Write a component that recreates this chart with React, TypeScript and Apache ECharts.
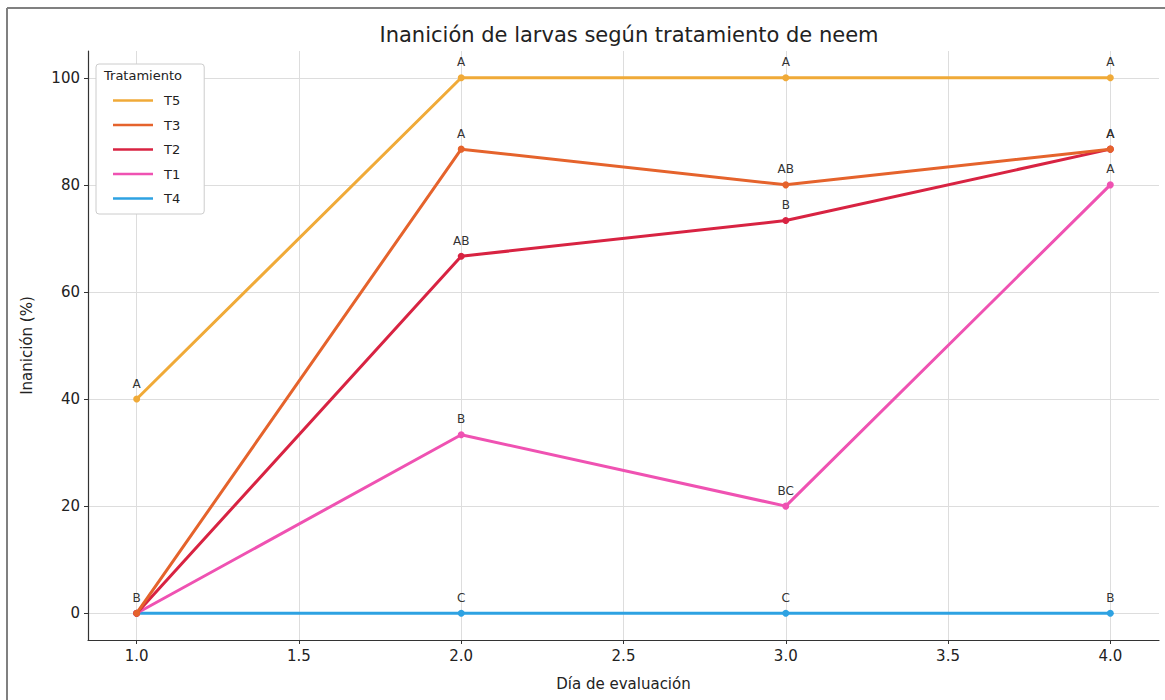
import React, { useEffect, useRef } from "react";
import * as echarts from "echarts";

const days = [1, 2, 3, 4];
const xTicks = [1.0, 1.5, 2.0, 2.5, 3.0, 3.5, 4.0];
const yTicks = [0, 20, 40, 60, 80, 100];

const names = ["T5", "T3", "T2", "T1", "T4"];
const colors = ["#f0aa38", "#e5632c", "#d82342", "#ef52b2", "#2ea2e2"];
const t5 = [40, 100, 100, 100];
const t3 = [0, 86.67, 80, 86.67];
const t2 = [0, 66.67, 73.33, 86.67];
const t1 = [0, 33.33, 20, 80];
const t4 = [0, 0, 0, 0];
const t5Letters = ["A", "A", "A", "A"];
const t3Letters = ["", "A", "AB", "A"];
const t2Letters = ["", "AB", "B", "A"];
const t1Letters = ["", "B", "BC", "A"];
const t4Letters = ["B", "C", "C", "B"];

const values = [t5, t3, t2, t1, t4];
const letters = [t5Letters, t3Letters, t2Letters, t1Letters, t4Letters];

const FONT = "DejaVu Sans";

export default function App() {
  const ref = useRef<HTMLDivElement>(null);
  useEffect(() => {
    document.body.style.margin = "0";
    const chart = echarts.init(ref.current!, null, { renderer: "svg" });
    const series: any[] = names.map((n, i) => ({
      name: n,
      type: "line",
      z: 10 - i,
      data: days.map((d, k) => ({
        value: [d, values[i][k]],
        label: {
          show: letters[i][k] !== "",
          formatter: letters[i][k],
        },
      })),
      symbol: "circle",
      symbolSize: 7,
      lineStyle: { width: 3, color: colors[i] },
      itemStyle: { color: colors[i] },
      label: {
        position: "top",
        distance: 6,
        color: "#333",
        fontSize: 12,
        fontFamily: FONT,
      },
    }));
    chart.setOption({
      animation: false,
      backgroundColor: "#ffffff",
      textStyle: { fontFamily: FONT },
      title: {
        text: "Inanición de larvas según tratamiento de neem",
        left: 624,
        textAlign: "center",
        top: 19,
        textStyle: { fontSize: 21, fontWeight: "normal", color: "#222", fontFamily: FONT },
      },
      grid: { left: 88, right: 6, top: 51, bottom: 60 },
      xAxis: {
        type: "value",
        min: 0.85,
        max: 4.15,
        name: "Día de evaluación",
        nameLocation: "middle",
        nameGap: 36,
        nameTextStyle: { fontSize: 15, color: "#222", fontFamily: FONT },
        axisLine: { show: true, onZero: false, lineStyle: { color: "#333", width: 1.2 } },
        axisTick: { show: true, length: 4, customValues: xTicks, lineStyle: { color: "#333" } },
        axisLabel: {
          customValues: xTicks,
          formatter: (v: number) => v.toFixed(1),
          fontSize: 15,
          color: "#222",
          margin: 8,
          fontFamily: FONT,
        },
        splitLine: { show: true, lineStyle: { color: "#dddddd", width: 1 } },
      },
      yAxis: {
        type: "value",
        min: -5,
        max: 105,
        name: "Inanición (%)",
        nameLocation: "middle",
        nameGap: 54,
        nameTextStyle: { fontSize: 15, color: "#222", fontFamily: FONT },
        axisLine: { show: true, onZero: false, lineStyle: { color: "#333", width: 1.2 } },
        axisTick: { show: true, length: 4, customValues: yTicks, lineStyle: { color: "#333" } },
        axisLabel: {
          customValues: yTicks,
          fontSize: 15,
          color: "#222",
          margin: 8,
          fontFamily: FONT,
        },
        splitLine: { show: true, lineStyle: { color: "#dddddd", width: 1 } },
      },
      legend: {
        orient: "vertical",
        left: 96,
        top: 64,
        data: names,
        icon: "rect",
        itemWidth: 40,
        itemHeight: 2.5,
        itemGap: 11.5,
        padding: [30, 24, 9, 17],
        backgroundColor: "#ffffff",
        borderColor: "#cccccc",
        borderWidth: 1,
        borderRadius: 3,
        textStyle: { fontSize: 13, color: "#222", fontFamily: FONT, padding: [0, 0, 0, 6] },
      },
      graphic: [
        {
          type: "text",
          left: 104,
          top: 69,
          z: 100,
          style: { text: "Tratamiento", fontSize: 13, fill: "#222", fontFamily: FONT },
        },
        {
          type: "line",
          shape: { x1: 7, y1: 8, x2: 7, y2: 700 },
          style: { stroke: "#808080", lineWidth: 2 },
        },
        {
          type: "line",
          shape: { x1: 7, y1: 8, x2: 1165, y2: 8 },
          style: { stroke: "#808080", lineWidth: 2 },
        },
      ],
      series,
    });
    return () => chart.dispose();
  }, []);
  return <div ref={ref} style={{ width: 1165, height: 700 }} />;
}
